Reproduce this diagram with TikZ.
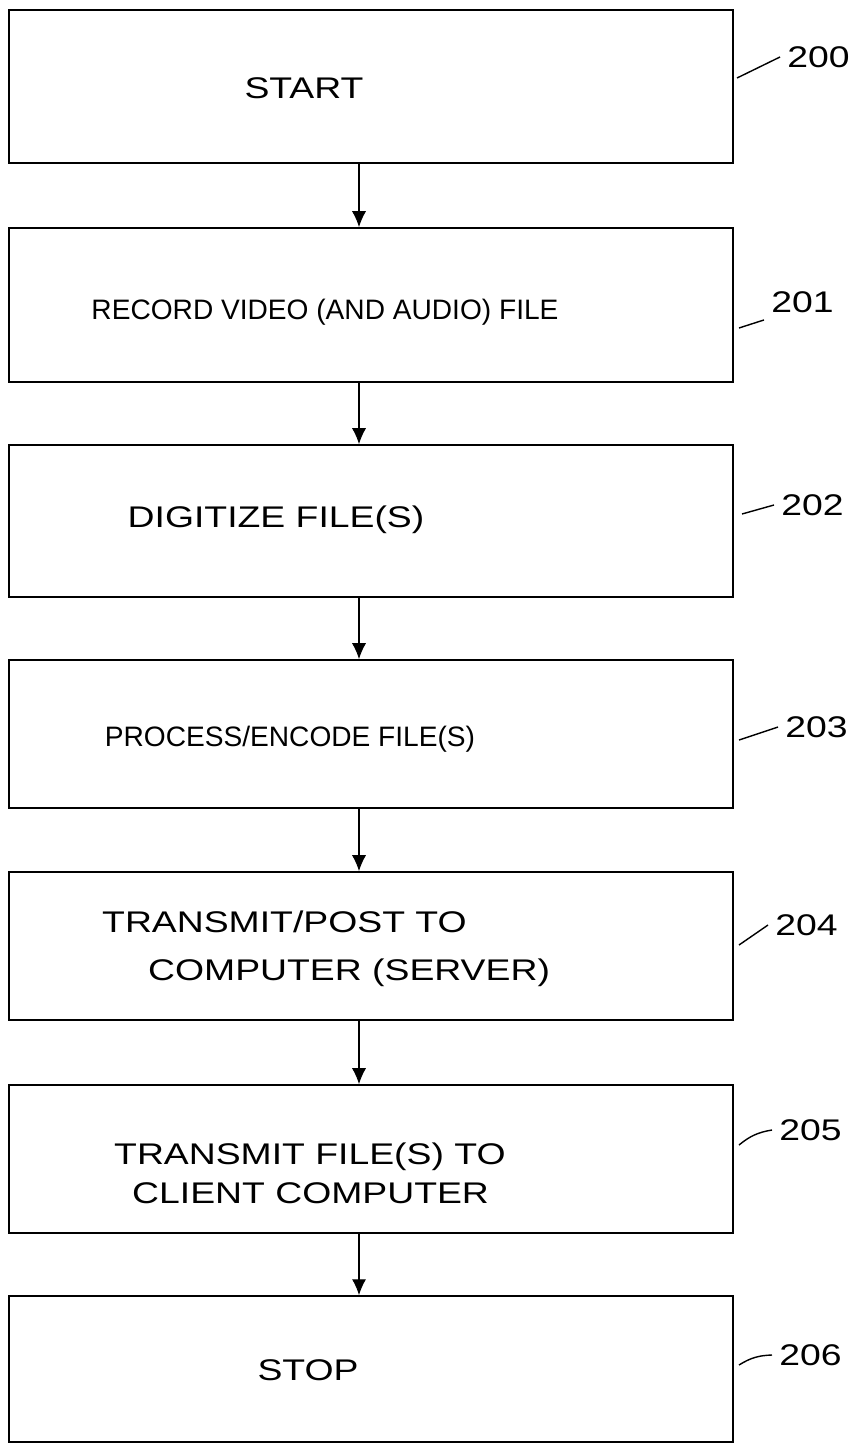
\documentclass[tikz,border=0pt]{standalone}
\usepackage{fontspec}
\setmainfont{Liberation Sans}
\newfontfamily\widefont[FakeStretch=1.25]{Liberation Sans}
\usetikzlibrary{arrows.meta}

\begin{document}
\begin{tikzpicture}[x=0.02cm,y=-0.02cm,>={Latex[length=9pt,width=8pt]},
  every node/.style={font=\widefont\fontsize{17}{20}\selectfont},
  narrow/.style={font=\fontsize{16}{19}\selectfont},
  box/.style={draw,line width=1.1pt,minimum width=14.48cm,inner sep=0pt},
  flow/.style={->,line width=0.6pt},
  refno/.style={anchor=west,inner sep=4pt},
  lead/.style={line width=0.8pt}]
\useasboundingbox (0,0) rectangle (867,1443);

% Boxes
\node[box,minimum height=3.06cm] (b0) at (371,86.5) {};
\node[box,minimum height=3.08cm] (b1) at (371,305) {};
\node[box,minimum height=3.04cm] (b2) at (371,521) {};
\node[box,minimum height=2.96cm] (b3) at (371,734) {};
\node[box,minimum height=2.96cm] (b4) at (371,946) {};
\node[box,minimum height=2.96cm] (b5) at (371,1159) {};
\node[box,minimum height=2.92cm] (b6) at (371,1369) {};

% Box texts
\node (t0) at (304,88) {START};
\node[narrow] (t1) at (325,312) {RECORD VIDEO (AND AUDIO) FILE};
\node (t2) at (276,520) {DIGITIZE FILE(S)};
\node[narrow] (t3) at (290,739) {PROCESS/ENCODE FILE(S)};
\node[anchor=west] (t4a) at (96,922) {TRANSMIT/POST TO};
\node[anchor=west] (t4b) at (142,973) {COMPUTER (SERVER)};
\node[anchor=west] (t5a) at (108,1157) {TRANSMIT FILE(S) TO};
\node[anchor=west] (t5b) at (126,1193) {CLIENT COMPUTER};
\node (t6) at (308,1370) {STOP};

% Flow arrows
\coordinate (ax) at (359,0);
\draw[flow] (b0.south -| ax) -- (b1.north -| ax);
\draw[flow] (b1.south -| ax) -- (b2.north -| ax);
\draw[flow] (b2.south -| ax) -- (b3.north -| ax);
\draw[flow] (b3.south -| ax) -- (b4.north -| ax);
\draw[flow] (b4.south -| ax) -- (b5.north -| ax);
\draw[flow] (b5.south -| ax) -- (b6.north -| ax);

% Reference numbers
\node[refno] (n200) at (780,57) {200};
\node[refno] (n201) at (764,302) {201};
\node[refno] (n202) at (774,505) {202};
\node[refno] (n203) at (778,727) {203};
\node[refno] (n204) at (768,925) {204};
\node[refno] (n205) at (772,1130) {205};
\node[refno] (n206) at (772,1355) {206};

% Leader lines
\coordinate (l200) at (737,78);
\coordinate (l201) at (739,328);
\coordinate (l202) at (742,514);
\coordinate (l203) at (739,740);
\coordinate (l204) at (739,945);
\coordinate (l205) at (739,1145);
\coordinate (l206) at (739,1365);
\draw[lead] (l200) -- (n200.west);
\draw[lead] (l201) -- (n201.south west);
\draw[lead] (l202) -- (n202.west);
\draw[lead] (l203) -- (n203.west);
\draw[lead] (l204) -- (n204.west);
\draw[lead] (l205) to[bend left=15] (n205.west);
\draw[lead] (l206) to[bend left=15] (n206.west);
\end{tikzpicture}
\end{document}
